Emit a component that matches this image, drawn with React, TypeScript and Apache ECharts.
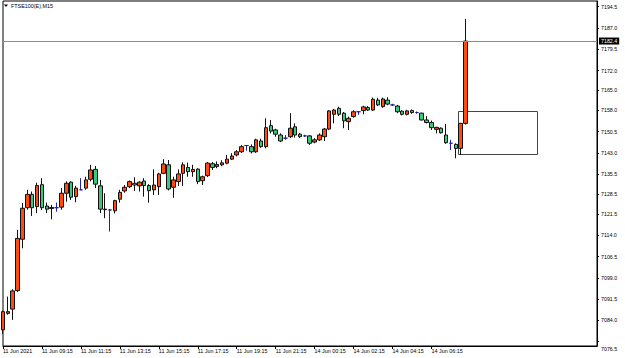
import React, { useEffect, useRef } from 'react';
import * as echarts from 'echarts';

const chartTitle = 'FTSE100(E),M15';

const opens = [
  7080.7, 7086.5, 7088.0, 7094.5, 7112.6, 7123.7, 7128.4, 7124.1, 7131.8, 7124.3,
  7123.4, 7123.7, 7123.9, 7128.8, 7132.7, 7127.6, 7130.0, 7130.6, 7133.7, 7137.2,
  7131.4, 7123.0, 7122.9, 7122.6, 7126.7, 7129.6, 7131.1, 7132.3, 7131.4, 7133.1,
  7131.5, 7130.0, 7131.1, 7135.8, 7138.8, 7130.9, 7132.9, 7135.8, 7137.9, 7136.4,
  7137.3, 7133.2, 7135.0, 7139.2, 7138.2, 7138.8, 7139.4, 7140.8, 7142.3, 7143.4,
  7145.6, 7145.2, 7143.4, 7147.2, 7145.2, 7152.6, 7151.1, 7149.3, 7148.2, 7148.7,
  7152.2, 7149.6, 7149.0, 7149.0, 7146.8, 7147.6, 7148.7, 7151.4, 7156.6, 7158.7,
  7157.0, 7154.0, 7155.8, 7157.5, 7157.9, 7159.0, 7158.1, 7161.6, 7159.3, 7161.6,
  7159.9, 7159.5, 7157.7, 7156.6, 7157.9, 7157.2, 7157.0, 7154.6, 7153.7, 7151.3,
  7151.7, 7149.3, 7146.4, 7146.0, 7144.6, 7153.4,
];
const closes = [
  7087.1, 7087.1, 7094.4, 7112.9, 7123.5, 7128.4, 7123.7, 7131.5, 7123.7, 7123.2,
  7123.8, 7123.7, 7128.8, 7132.3, 7127.4, 7130.6, 7130.0, 7133.5, 7137.0, 7132.0,
  7123.2, 7123.2, 7122.9, 7126.2, 7129.1, 7130.9, 7132.9, 7131.7, 7132.7, 7131.5,
  7129.7, 7131.7, 7135.6, 7139.1, 7130.3, 7133.5, 7135.6, 7138.8, 7136.4, 7137.2,
  7132.9, 7134.6, 7139.4, 7137.9, 7138.9, 7139.5, 7140.8, 7141.9, 7143.4, 7145.2,
  7145.6, 7143.4, 7147.6, 7145.2, 7151.9, 7150.7, 7149.6, 7147.2, 7148.2, 7151.7,
  7149.3, 7148.7, 7149.0, 7146.4, 7147.6, 7149.3, 7151.4, 7157.8, 7158.1, 7156.6,
  7154.3, 7155.2, 7157.5, 7157.5, 7159.2, 7158.1, 7161.9, 7159.9, 7162.0, 7160.2,
  7159.9, 7157.5, 7156.6, 7157.8, 7157.2, 7157.2, 7154.6, 7153.7, 7151.9, 7152.0,
  7150.1, 7146.6, 7146.4, 7144.6, 7153.4, 7182.4,
];
const lows = [
  7079.3, 7086.0, 7084.2, 7094.0, 7109.4, 7123.0, 7120.8, 7121.8, 7122.9, 7121.8,
  7119.6, 7122.3, 7123.0, 7125.8, 7126.4, 7125.6, 7130.0, 7130.0, 7133.0, 7130.6,
  7121.8, 7120.0, 7115.3, 7121.7, 7125.5, 7129.0, 7130.6, 7129.6, 7129.4, 7127.6,
  7125.5, 7128.2, 7128.2, 7135.5, 7129.8, 7127.2, 7131.4, 7131.4, 7134.6, 7134.6,
  7132.0, 7131.7, 7134.5, 7137.0, 7137.6, 7138.3, 7139.0, 7140.5, 7141.8, 7143.0,
  7143.8, 7142.8, 7143.0, 7144.8, 7144.6, 7149.9, 7148.7, 7146.8, 7147.6, 7148.3,
  7148.4, 7148.3, 7148.6, 7145.8, 7146.4, 7147.2, 7147.2, 7151.0, 7153.4, 7156.0,
  7151.7, 7151.1, 7155.4, 7156.4, 7156.6, 7157.8, 7157.8, 7159.5, 7158.9, 7159.8,
  7159.5, 7157.0, 7156.2, 7156.2, 7156.8, 7156.8, 7154.4, 7153.4, 7151.1, 7149.9,
  7149.8, 7146.2, 7144.0, 7141.1, 7142.3, 7153.0,
];
const highs = [
  7087.5, 7092.4, 7095.0, 7115.9, 7125.4, 7130.0, 7129.4, 7132.5, 7134.1, 7125.5,
  7124.7, 7125.5, 7130.6, 7133.0, 7133.0, 7131.4, 7134.1, 7134.6, 7138.8, 7138.4,
  7133.5, 7128.8, 7123.2, 7126.5, 7130.0, 7131.7, 7133.3, 7134.4, 7133.0, 7134.1,
  7132.0, 7137.2, 7136.0, 7140.8, 7140.5, 7134.6, 7137.2, 7139.7, 7139.6, 7138.8,
  7137.6, 7135.0, 7139.8, 7139.8, 7140.0, 7140.4, 7142.3, 7142.9, 7144.0, 7145.8,
  7145.6, 7146.0, 7148.0, 7148.0, 7155.2, 7154.6, 7151.5, 7149.9, 7149.3, 7157.0,
  7153.4, 7150.0, 7149.4, 7149.3, 7148.2, 7149.9, 7151.8, 7158.1, 7158.5, 7159.3,
  7157.4, 7155.8, 7158.0, 7157.5, 7159.6, 7159.5, 7162.5, 7162.4, 7162.5, 7162.6,
  7160.3, 7159.9, 7158.0, 7158.2, 7158.3, 7157.6, 7157.2, 7156.0, 7154.4, 7152.2,
  7152.0, 7153.2, 7147.6, 7146.4, 7153.6, 7190.2,
];

const timeTickLabels = [
  '11 Jun 2021', '11 Jun 09:15', '11 Jun 11:15', '11 Jun 13:15', '11 Jun 15:15',
  '11 Jun 17:15', '11 Jun 19:15', '11 Jun 21:15', '14 Jun 00:15', '14 Jun 02:15',
  '14 Jun 04:15', '14 Jun 06:15',
];
const barsPerTimeTick = 8;
const totalBarSlots = 123;

const priceTicks = [
  7194.5, 7187.0, 7179.5, 7172.0, 7165.0, 7158.0, 7150.5, 7143.0, 7135.5,
  7128.5, 7121.5, 7114.0, 7106.5, 7099.0, 7091.5, 7084.0, 7076.5,
];
const priceMin = 7075.0;
const priceMax = 7196.5;
const lastPrice = 7182.4;
const boxFrom = [93.4, 7157.8];
const boxTo = [109.6, 7142.5];

const FONT = '"Liberation Sans", Arial, sans-serif';

export default function App() {
  const ref = useRef<HTMLDivElement>(null);
  useEffect(() => {
    if (!ref.current) return;
    const chart = echarts.init(ref.current, undefined, { renderer: 'svg' });
    const categories = Array.from({ length: totalBarSlots }, (_, i) => String(i));
    const data = opens.map((o, i) => [o, closes[i], lows[i], highs[i]]);
    const showTick = (i: number) =>
      i % barsPerTimeTick === 0 && i / barsPerTimeTick < timeTickLabels.length;
    const lowestTick = priceTicks[priceTicks.length - 1];
    const titleGraphics = [
      { type: 'polygon', shape: { points: [[4, 4.5], [8, 4.5], [6, 7]] }, style: { fill: '#000' } },
      {
        type: 'text', x: 11, y: 6,
        style: { text: chartTitle, fontSize: 5.4, fill: '#000', verticalAlign: 'middle', fontFamily: FONT },
      },
    ];
    chart.setOption({
      animation: false,
      backgroundColor: '#ffffff',
      textStyle: { fontFamily: FONT },
      grid: {
        left: 2, right: 28, top: 1, bottom: 12,
        show: true, borderColor: '#000', borderWidth: 1, backgroundColor: '#fff',
      },
      xAxis: {
        type: 'category',
        data: categories,
        boundaryGap: false,
        axisLine: { show: true, lineStyle: { color: '#000', width: 1 } },
        axisTick: { show: true, length: 3, interval: (i: number) => showTick(i), lineStyle: { color: '#000' } },
        axisLabel: {
          interval: (i: number) => showTick(i),
          formatter: (_v: string, i: number) => timeTickLabels[i / barsPerTimeTick] ?? '',
          fontSize: 5.4, color: '#000', align: 'left', margin: 2, fontFamily: FONT,
        },
        splitLine: { show: false },
      },
      yAxis: {
        type: 'value',
        position: 'right',
        min: priceMin,
        max: priceMax,
        axisLine: { show: true, lineStyle: { color: '#000', width: 1 } },
        axisTick: { show: true, length: 2, customValues: priceTicks, lineStyle: { color: '#000' } },
        axisLabel: {
          customValues: priceTicks,
          formatter: (v: number) =>
            v === lowestTick ? `{edge|${v.toFixed(1)}}` : v.toFixed(1),
          rich: { edge: { fontSize: 5.3, color: '#000', padding: [15, 0, 0, 0], fontFamily: FONT } },
          fontSize: 5.3, color: '#000', margin: 4, fontFamily: FONT,
        },
        splitLine: { show: false },
      },
      series: [
        {
          type: 'candlestick',
          data,
          barWidth: 4,
          clip: false,
          itemStyle: {
            color: '#ff4a14',
            color0: '#3cc87c',
            borderColor: '#111',
            borderColor0: '#111',
            borderColorDoji: '#24249a',
            borderWidth: 1,
          },
          markLine: {
            silent: true,
            symbol: ['none', 'none'],
            data: [{ yAxis: lastPrice }],
            lineStyle: { color: '#8c8c8c', width: 1, type: 'solid' },
            label: {
              show: true, position: 'end', formatter: lastPrice.toFixed(1),
              backgroundColor: '#000', color: '#fff', fontSize: 5.3,
              padding: [1, 2, 1, 2], distance: 2, fontFamily: FONT,
            },
          },
        },
      ],
      graphic: titleGraphics,
    });
    const toPixel = (pt: number[]) => {
      const i0 = Math.floor(pt[0]);
      const f = pt[0] - i0;
      const a = chart.convertToPixel({ xAxisIndex: 0, yAxisIndex: 0 }, [i0, pt[1]]) as number[];
      const b = chart.convertToPixel({ xAxisIndex: 0, yAxisIndex: 0 }, [i0 + 1, pt[1]]) as number[];
      return [a[0] + (b[0] - a[0]) * f, a[1]];
    };
    const p1 = toPixel(boxFrom);
    const p2 = toPixel(boxTo);
    chart.setOption({
      graphic: [
        ...titleGraphics,
        {
          type: 'rect',
          shape: {
            x: Math.round(Math.min(p1[0], p2[0])) + 0.5,
            y: Math.round(Math.min(p1[1], p2[1])) + 0.5,
            width: Math.round(Math.abs(p2[0] - p1[0])),
            height: Math.round(Math.abs(p2[1] - p1[1])),
          },
          style: { fill: 'none', stroke: '#444', lineWidth: 1 },
          silent: true,
        },
      ],
    });
    return () => chart.dispose();
  }, []);
  return (
    <div
      ref={ref}
      style={{ position: 'fixed', left: 0, top: 0, width: 625, height: 358, background: '#fff' }}
    />
  );
}
